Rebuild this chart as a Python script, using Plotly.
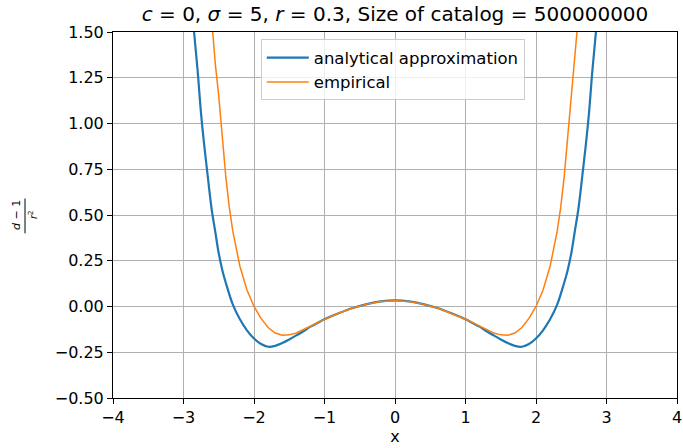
import plotly.graph_objects as go

x_analytical = [-2.95, -2.9, -2.85, -2.8, -2.75, -2.7, -2.65, -2.6, -2.55, -2.5, -2.45, -2.4, -2.3, -2.2, -2.1,
                -2.0, -1.9, -1.8, -1.7, -1.6, -1.5, -1.4, -1.3, -1.2, -1.1, -1.0, -0.8, -0.6, -0.4, -0.2, 0.0,
                0.2, 0.4, 0.6, 0.8, 1.0, 1.1, 1.2, 1.3, 1.4, 1.5, 1.6, 1.7, 1.8, 1.9, 2.0,
                2.1, 2.2, 2.3, 2.4, 2.45, 2.5, 2.55, 2.6, 2.65, 2.7, 2.75, 2.8, 2.85, 2.9, 2.95]
y_analytical = [2.0, 1.72, 1.5, 1.29, 1.05, 0.86, 0.69, 0.53, 0.41, 0.29, 0.2, 0.13, 0.01, -0.07, -0.13,
                -0.175, -0.205, -0.22, -0.215, -0.2, -0.18, -0.158, -0.135, -0.11, -0.09, -0.07, -0.037, -0.008, 0.013, 0.028, 0.034,
                0.028, 0.013, -0.008, -0.037, -0.07, -0.09, -0.11, -0.135, -0.158, -0.18, -0.2, -0.215, -0.22, -0.205, -0.175,
                -0.13, -0.07, 0.01, 0.13, 0.2, 0.29, 0.41, 0.53, 0.69, 0.86, 1.05, 1.29, 1.5, 1.72, 2.0]

x_empirical = [-2.65, -2.6, -2.55, -2.5, -2.45, -2.4, -2.35, -2.3, -2.2, -2.1, -2.0, -1.9, -1.8, -1.7, -1.6,
               -1.5, -1.4, -1.3, -1.2, -1.1, -1.0, -0.8, -0.6, -0.4, -0.2, 0.0,
               0.2, 0.4, 0.6, 0.8, 1.0, 1.1, 1.2, 1.3, 1.4, 1.5, 1.6, 1.7, 1.8, 1.9, 2.0,
               2.1, 2.2, 2.3, 2.35, 2.4, 2.45, 2.5, 2.55, 2.6, 2.65]
y_empirical = [1.8, 1.54, 1.33, 1.15, 0.92, 0.71, 0.54, 0.41, 0.22, 0.09, 0.0, -0.065, -0.115, -0.145, -0.157,
               -0.155, -0.145, -0.128, -0.108, -0.088, -0.07, -0.037, -0.008, 0.013, 0.027, 0.032,
               0.027, 0.013, -0.008, -0.037, -0.07, -0.088, -0.108, -0.128, -0.145, -0.155, -0.157, -0.145, -0.115, -0.065, 0.0,
               0.09, 0.22, 0.41, 0.54, 0.71, 0.92, 1.15, 1.33, 1.54, 1.8]

x_ticks = [-4, -3, -2, -1, 0, 1, 2, 3, 4]
x_tick_labels = ["\u22124", "\u22123", "\u22122", "\u22121", "0", "1", "2", "3", "4"]
y_ticks = [-0.5, -0.25, 0.0, 0.25, 0.5, 0.75, 1.0, 1.25, 1.5]
y_tick_labels = ["\u22120.50", "\u22120.25", "0.00", "0.25", "0.50", "0.75", "1.00", "1.25", "1.50"]

font = "DejaVu Sans"

fig = go.Figure()
fig.add_trace(go.Scatter(x=x_analytical, y=y_analytical, mode="lines", name="analytical approximation",
                         line=dict(color="#1f77b4", width=2.2, shape="spline")))
fig.add_trace(go.Scatter(x=x_empirical, y=y_empirical, mode="lines", name="empirical",
                         line=dict(color="#ff7f0e", width=1.5)))

axis_common = dict(showline=True, linecolor="black", linewidth=1, mirror=True,
                   showgrid=True, gridcolor="#b0b0b0", gridwidth=1, zeroline=False,
                   ticks="outside", ticklen=5, tickcolor="black", automargin=False,
                   tickfont=dict(family=font, size=16, color="black"))

fig.update_xaxes(range=[-4, 4], tickvals=x_ticks, ticktext=x_tick_labels,
                 title=dict(text="x", font=dict(family=font, size=16, color="black"), standoff=4),
                 **axis_common)
fig.update_yaxes(range=[-0.5, 1.5], tickvals=y_ticks, ticktext=y_tick_labels, **axis_common)

fig.update_layout(
    width=683, height=448,
    margin=dict(l=113, r=6, t=32, b=50),
    plot_bgcolor="white", paper_bgcolor="white",
    title=dict(text="<i>c</i> = 0, <i>\u03c3</i> = 5, <i>r</i> = 0.3, Size of catalog = 500000000",
               x=395 / 683, xanchor="center", xref="container", y=1 - 14 / 448, yref="container",
               yanchor="middle",
               font=dict(family=font, size=20, color="black")),
    legend=dict(x=0.262, y=0.98, xanchor="left", yanchor="top", itemwidth=42,
                bgcolor="rgba(255,255,255,0.8)", bordercolor="#cccccc", borderwidth=1,
                font=dict(family=font, size=16.5, color="black"), tracegroupgap=0),
    showlegend=True,
)

# y-axis label as a stacked fraction (d-1)/r^2
fig.add_annotation(text="<i>d</i> \u2212 1", xref="paper", yref="paper", x=(16 - 113) / 564, y=0.5,
                   xanchor="center", yanchor="middle", textangle=-90, showarrow=False,
                   font=dict(family=font, size=11, color="black"))
fig.add_shape(type="line", xref="paper", yref="paper", x0=(25 - 113) / 564, x1=(25 - 113) / 564,
              y0=0.45, y1=0.545, line=dict(color="black", width=1))
fig.add_annotation(text="<i>r</i><sup>2</sup>", xref="paper", yref="paper", x=(33 - 113) / 564, y=0.5,
                   xanchor="center", yanchor="middle", textangle=-90, showarrow=False,
                   font=dict(family=font, size=10, color="black"))

fig.write_html("out.html")
